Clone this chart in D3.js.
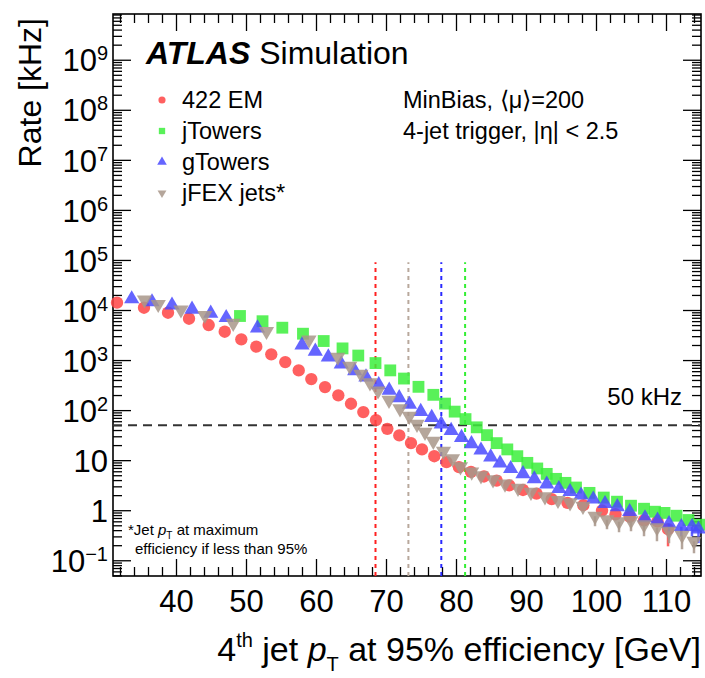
<!DOCTYPE html>
<html>
<head>
<meta charset="utf-8">
<script src="https://cdn.jsdelivr.net/npm/d3@7"></script>
<style>
  html, body { margin: 0; padding: 0; background: #fff; }
  svg text { font-family: "Liberation Sans", Arial, Helvetica, sans-serif; fill: #000; }
</style>
</head>
<body>
<svg id="chart" width="705" height="678"></svg>
<script>
// 4-jet trigger rate versus 4th jet pT at 95% efficiency
const emX = [31.57,35.43,38.86,41.86,44.67,46.96,49.33,51.47,53.61,55.61,57.53,59.33,61.29,63.19,65.0,66.76,68.57,70.19,71.9,73.57,75.14,76.9,78.64,80.43,82.14,84.0,85.81,87.61,89.57,91.5,93.67,95.93,98.19,100.86,102.79,104.81,106.86,108.79,110.29];
const emRate = [14000,11100,8830,6700,5010,3680,2590,1850,1300,912,622,417,288,197,134,91.2,63.1,42.3,31.2,21.9,16.4,12.0,9.12,7.24,5.83,4.72,3.89,3.13,2.54,2.14,1.67,1.40,1.26,0.986,0.83,0.741,0.63,0.60,0.417];
const emLow = [null,null,null,null,null,null,null,null,null,null,null,null,null,null,null,null,null,null,null,null,null,null,null,null,null,null,null,null,null,null,null,null,null,null,null,null,null,null,0.19];

const jtX = [49.14,52.36,55.19,58.14,61.1,63.79,66.04,68.5,70.61,72.57,74.64,76.76,78.43,79.81,81.36,82.96,84.43,85.81,87.33,88.76,90.19,91.61,92.96,94.29,95.64,97.14,99.07,101.11,103.0,105.0,106.86,108.43,109.79,111.5,113.21,114.79];
const jtRate = [7590,5970,4430,3360,2400,1710,1230,871,622,427,292,202,135,93.3,66.1,45.3,31.6,21.9,16.4,12.0,8.83,6.82,5.32,4.23,3.52,2.84,2.22,1.79,1.48,1.23,1.07,0.933,0.883,0.776,0.637,0.513];

const gtX = [33.67,36.57,39.43,42.29,44.96,47.17,51.64,58.0,59.9,61.76,63.61,65.53,67.14,68.96,70.46,71.89,73.36,74.96,76.53,77.89,79.31,80.79,82.21,83.57,84.96,86.29,87.81,89.57,91.19,92.96,94.69,96.29,97.86,99.61,101.29,103.04,104.81,107.0,108.79,110.43,112.19,113.71,114.64];
const gtRate = [16600,14500,12500,10300,8590,7010,4370,2000,1490,1150,832,611,457,321,248,176,130,93.3,70.8,52.5,38.9,28.2,21.2,15.8,11.5,8.71,6.76,5.32,4.21,3.31,2.69,2.34,2.0,1.66,1.35,1.17,0.933,0.70,0.63,0.537,0.468,0.468,0.417];
const gtLow = [null,null,null,null,null,null,null,null,null,null,null,null,null,null,null,null,null,null,null,null,null,null,null,null,null,null,null,null,null,null,null,null,null,null,null,null,null,null,null,0.35,0.30,0.30,0.22];

const jfX = [35.5,37.46,40.71,44.11,48.17,52.93,59.0,63.11,64.81,66.4,67.71,68.86,70.43,72.0,73.33,74.43,75.57,76.76,78.21,79.5,80.64,82.24,83.57,85.29,87.0,88.86,90.71,92.71,94.57,96.29,98.14,99.86,101.57,103.29,105.0,106.86,108.71,110.43,112.29,114.0];
const jfRate = [16000,13000,10100,7830,5450,3750,2540,1150,759,525,352,243,158,107,75.9,52.5,36.3,24.0,15.1,10.7,7.41,5.83,4.90,4.07,3.36,2.75,2.29,1.86,1.58,1.41,1.20,0.759,0.646,0.589,0.617,0.513,0.447,0.380,0.316,0.240];
const jfLow = [null,null,null,null,null,null,null,null,null,null,null,null,null,null,null,null,null,null,null,null,null,null,null,null,null,null,null,null,null,null,null,0.479,0.417,0.363,0.380,0.302,0.240,0.219,0.166,0.138];

// pT at which each trigger reaches 50 kHz
const thresholdX = [68.5, 73.2, 77.9, 81.3];
const thresholdColors = ["#ff2020", "#b8a89c", "#2a2aff", "#33ee33"];
const thresholdTop = 9e4;
const rateLimit = 50;

const xMajor = [40, 50, 60, 70, 80, 90, 100, 110];
const xMinor = [32,34,36,38,42,44,46,48,52,54,56,58,62,64,66,68,72,74,76,78,82,84,86,88,92,94,96,98,102,104,106,108,112,114];
const yExponents = [-1, 0, 1, 2, 3, 4, 5, 6, 7, 8, 9];
const yTickText = ["10^-1", "1", "10", "10^2", "10^3", "10^4", "10^5", "10^6", "10^7", "10^8", "10^9"];

const seriesNames = ["422 EM", "jTowers", "gTowers", "jFEX jets*"];

const svg = d3.select("#chart");
const L = 113, R = 701, T = 14, B = 576;

const x = d3.scaleLinear().domain([31, 115]).range([L, R]);
const y = d3.scaleLog().domain([0.0485, 8.2e9]).range([B, T]);

const yMajor = yExponents.map(e => Math.pow(10, e));
const yMinor = [];
for (let e = -2; e <= 9; e++) {
  for (let k = 2; k <= 9; k++) {
    const v = k * Math.pow(10, e);
    if (v >= y.domain()[0] && v <= y.domain()[1]) yMinor.push(v);
  }
}

// frame
svg.append("rect").attr("x", L).attr("y", T).attr("width", R - L).attr("height", B - T)
  .attr("fill", "none").attr("stroke", "#000").attr("stroke-width", 1.6);

function tickAxis(axis, transform, values, size) {
  const g = svg.append("g").attr("transform", transform)
    .call(axis.tickValues(values).tickSize(-size).tickFormat(""));
  g.select(".domain").remove();
  g.selectAll(".tick line").attr("stroke", "#000").attr("stroke-width", 1.3);
  return g;
}
tickAxis(d3.axisBottom(x), `translate(0,${B})`, xMajor, 17);
tickAxis(d3.axisBottom(x), `translate(0,${B})`, xMinor, 9);
tickAxis(d3.axisTop(x), `translate(0,${T})`, xMajor, 17);
tickAxis(d3.axisTop(x), `translate(0,${T})`, xMinor, 9);
tickAxis(d3.axisLeft(y), `translate(${L},0)`, yMajor, 18);
tickAxis(d3.axisLeft(y), `translate(${L},0)`, yMinor, 9);
tickAxis(d3.axisRight(y), `translate(${R},0)`, yMajor, 18);
tickAxis(d3.axisRight(y), `translate(${R},0)`, yMinor, 9);

// tick labels
const xLab = svg.append("g").attr("transform", `translate(0,${B})`)
  .call(d3.axisBottom(x).tickValues(xMajor).tickSize(0).tickPadding(14).tickFormat(d3.format("d")));
xLab.select(".domain").remove();
xLab.selectAll("text").attr("font-size", 31).attr("font-family", "Liberation Sans, Arial, sans-serif");

const yLab = svg.append("g").attr("transform", `translate(${L},0)`)
  .call(d3.axisLeft(y).tickValues(yMajor).tickSize(0).tickPadding(5).tickFormat(""));
yLab.select(".domain").remove();
yLab.selectAll(".tick text").each(function(d, i) {
  const s = yTickText[i];
  const t = d3.select(this).attr("font-size", 31).attr("font-family", "Liberation Sans, Arial, sans-serif")
    .attr("text-anchor", "end").attr("dy", "0.36em");
  const parts = s.split("^");
  t.append("tspan").text(parts[0]);
  if (parts.length > 1) {
    t.append("tspan").attr("font-size", 20).attr("dy", "-0.55em")
      .text(parts[1].replace("-", "\u2212"));
  }
});

// axis titles
const xt = svg.append("text").attr("x", R).attr("y", 661).attr("text-anchor", "end").attr("font-size", 34);
xt.append("tspan").text("4");
xt.append("tspan").attr("font-size", 20).attr("dy", -14).text("th");
xt.append("tspan").attr("dy", 14).text(" jet ");
xt.append("tspan").attr("font-style", "italic").text("p");
xt.append("tspan").attr("font-size", 20).attr("dy", 10).text("T");
xt.append("tspan").attr("dy", -10).text(" at 95% efficiency [GeV]");

svg.append("text").attr("transform", `translate(41,${T + 4}) rotate(-90)`)
  .attr("text-anchor", "end").attr("font-size", 32).text("Rate [kHz]");

// reference lines
const plot = svg.append("g");
plot.append("line").attr("x1", L).attr("x2", R).attr("y1", y(rateLimit)).attr("y2", y(rateLimit))
  .attr("stroke", "#333").attr("stroke-width", 2).attr("stroke-dasharray", "9,6");
thresholdX.forEach((v, i) => {
  plot.append("line").attr("x1", x(v)).attr("x2", x(v)).attr("y1", B).attr("y2", y(thresholdTop))
    .attr("stroke", thresholdColors[i]).attr("stroke-width", 2).attr("stroke-dasharray", "4,4");
});
svg.append("text").attr("x", 682).attr("y", 405).attr("text-anchor", "end").attr("font-size", 24).text("50 kHz");

// data markers
const series = [
  { xs: emX, ys: emRate, low: emLow, color: "#ff4444", type: d3.symbolCircle, size: 120, rot: 0 },
  { xs: jtX, ys: jtRate, low: null, color: "#3cef3c", type: d3.symbolSquare, size: 140, rot: 0 },
  { xs: gtX, ys: gtRate, low: gtLow, color: "#4a4aff", type: d3.symbolTriangle, size: 100, rot: 0 },
  { xs: jfX, ys: jfRate, low: jfLow, color: "#a8968a", type: d3.symbolTriangle, size: 100, rot: 180 }
];
series.forEach(s => {
  const g = plot.append("g");
  if (s.low) {
    s.low.forEach((lo, i) => {
      if (lo == null) return;
      g.append("line").attr("x1", x(s.xs[i])).attr("x2", x(s.xs[i]))
        .attr("y1", y(s.ys[i])).attr("y2", y(lo))
        .attr("stroke", s.color).attr("stroke-width", 2.5).attr("opacity", 0.85);
    });
  }
  g.selectAll("path").data(s.xs).join("path")
    .attr("d", d3.symbol().type(s.type).size(s.size))
    .attr("transform", (d, i) => `translate(${x(d)},${y(s.ys[i])}) rotate(${s.rot})`)
    .attr("fill", s.color).attr("opacity", 0.85);
});

// labels
const atlas = svg.append("text").attr("x", 146).attr("y", 64).attr("font-size", 32);
atlas.append("tspan").attr("font-weight", "bold").attr("font-style", "italic").text("ATLAS");
atlas.append("tspan").text(" Simulation");

const legRows = [100, 131, 162, 193];
series.forEach((s, i) => {
  svg.append("path").attr("d", d3.symbol().type(s.type).size(s.rot ? 34 : 40)())
    .attr("transform", `translate(162,${legRows[i]}) rotate(${s.rot})`).attr("fill", s.color).attr("opacity", 0.85);
  svg.append("text").attr("x", 182).attr("y", legRows[i] + 8).attr("font-size", 23.5).text(seriesNames[i]);
});

svg.append("text").attr("x", 403).attr("y", 108).attr("font-size", 23.5).text("MinBias, \u27E8\u03BC\u27E9=200");
const trig = svg.append("text").attr("x", 403).attr("y", 139).attr("font-size", 23.5);
trig.append("tspan").text("4-jet trigger, |");
trig.append("tspan").text("\u03B7");
trig.append("tspan").text("| < 2.5");

const fn1 = svg.append("text").attr("x", 128).attr("y", 535).attr("font-size", 15);
fn1.append("tspan").text("*Jet ");
fn1.append("tspan").attr("font-style", "italic").text("p");
fn1.append("tspan").attr("font-size", 10).attr("dy", 4).text("T");
fn1.append("tspan").attr("dy", -4).text(" at maximum");
svg.append("text").attr("x", 135).attr("y", 554).attr("font-size", 15).text("efficiency if less than 95%");
</script>
</body>
</html>
